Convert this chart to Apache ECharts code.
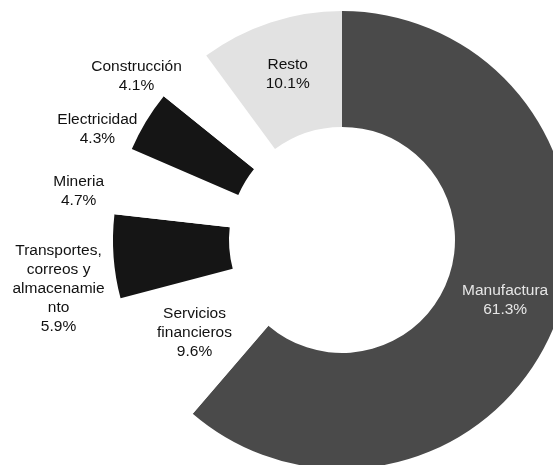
<!DOCTYPE html>
<html>
<head>
<meta charset="utf-8">
<script src="https://cdn.jsdelivr.net/npm/echarts@6/dist/echarts.min.js"></script>
<style>html,body{margin:0;padding:0;background:#fff}#c{width:553px;height:465px}</style>
</head>
<body>
<div id="c"></div>
<script>
// Data
var categories = ['Manufactura', 'Servicios financieros', 'Transportes, correos y almacenamiento', 'Mineria', 'Electricidad', 'Construcción', 'Resto'];
var values = [61.3, 9.6, 5.9, 4.7, 4.3, 4.1, 10.1];
var labelTexts = ['Manufactura', 'Servicios\nfinancieros', 'Transportes,\ncorreos y\nalmacenamie\nnto', 'Mineria', 'Electricidad', 'Construcción', 'Resto'];

// Styles (not data)
var colors = ['#4a4a4a', '#ffffff', '#151515', '#ffffff', '#151515', '#ffffff', '#e2e2e2'];
var outside = [false, false, true, true, true, true, false];
var labelColors = ['#e6e6e6', '#111', '#111', '#111', '#111', '#111', '#111'];
var nudge = [[0,0],[0,0],[6,31],[-2,13],[5,13],[10,9],[0,0]];

var chart = echarts.init(document.getElementById('c'), null, {renderer: 'canvas'});
var seriesData = categories.map(function (name, i) {
  return {
    name: name,
    value: values[i],
    itemStyle: {color: colors[i]},
    label: {position: outside[i] ? 'outside' : 'inside', color: labelColors[i]}
  };
});
chart.setOption({
  animation: false,
  backgroundColor: '#ffffff',
  series: [{
    type: 'pie',
    center: [342, 240],
    radius: [113, 229],
    startAngle: 90,
    clockwise: true,
    avoidLabelOverlap: false,
    data: seriesData,
    label: {
      show: true,
      fontFamily: 'Liberation Sans, Arial, sans-serif',
      fontSize: 15.5,
      lineHeight: 19,
      align: 'center',
      formatter: function (p) {
        return labelTexts[p.dataIndex] + '\n' + values[p.dataIndex].toFixed(1) + '%';
      }
    },
    labelLine: {show: false, length: 10, length2: 0},
    labelLayout: function (params) {
      var r = params.labelRect;
      var d = nudge[params.dataIndex];
      return {
        x: r.x + r.width / 2 + d[0],
        y: r.y + r.height / 2 + d[1],
        align: 'center',
        verticalAlign: 'middle'
      };
    },
    emphasis: {disabled: true}
  }]
});
</script>
</body>
</html>
